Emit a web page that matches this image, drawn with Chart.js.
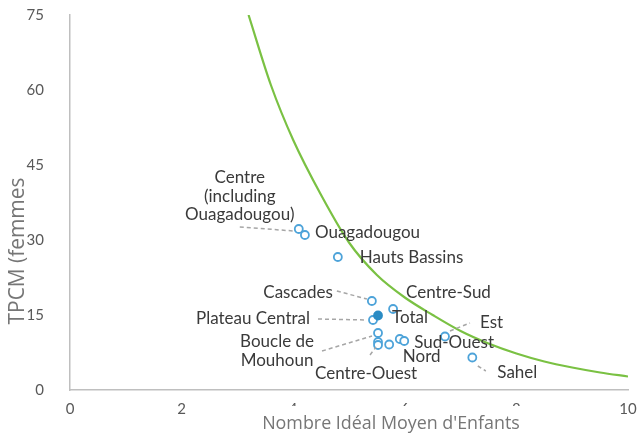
<!DOCTYPE html>
<html>
<head>
<meta charset="utf-8">
<script src="https://cdn.jsdelivr.net/npm/chart.js@4"></script>
<style>
  html, body { margin: 0; padding: 0; background: #fff; }
  #wrap { width: 639px; height: 438px; }
</style>
</head>
<body>
<div id="wrap"><canvas id="myChart" width="639" height="438"></canvas></div>
<script>
// DATA
const regions = [
  'Centre', 'Ouagadougou', 'Hauts Bassins', 'Cascades', 'Centre-Sud',
  'Total', 'Plateau Central', 'Boucle de Mouhoun', 'Centre-Ouest', 'Centre-Est',
  'Centre-Nord', 'Nord', 'Sud-Ouest', 'Est', 'Sahel'
];
const idealKids = [4.10, 4.21, 4.80, 5.41, 5.79, 5.52, 5.43, 5.52, 5.52, 5.52, 5.72, 5.91, 5.99, 6.72, 7.21];
const tpcm = [32.2, 31.0, 26.6, 17.8, 16.2, 14.9, 14.0, 11.4, 9.6, 9.0, 9.1, 10.2, 9.8, 10.7, 6.5];

// green trend curve
const curveX = [3.2, 3.6, 4.0, 4.5, 5.0, 5.5, 6.0, 6.5, 7.0, 7.5, 8.0, 8.5, 9.0, 9.5, 10.0];
const curveY = [75, 61, 50, 39, 29.5, 23, 18.5, 15, 11.8, 9.3, 7.3, 5.7, 4.5, 3.5, 2.7];

const xTitle = "Nombre Idéal Moyen d'Enfants";
const yTitle = 'TPCM (femmes';

// label placement (pixel offsets from the marker)
const labelLayout = {
  'Centre': { lines: ['Centre', '(including', 'Ouagadougou)'], dx: -59, dy: -51, align: 'center', lead: [-59, -2, -5, 2] },
  'Ouagadougou': { lines: ['Ouagadougou'], dx: 10, dy: -2, align: 'left' },
  'Hauts Bassins': { lines: ['Hauts Bassins'], dx: 22, dy: 1, align: 'left' },
  'Cascades': { lines: ['Cascades'], dx: -39, dy: -8, align: 'right', lead: [-35, -10, -5, -2] },
  'Centre-Sud': { lines: ['Centre-Sud'], dx: 13, dy: -16, align: 'left' },
  'Total': { lines: ['Total'], dx: 14, dy: 2.5, align: 'left' },
  'Plateau Central': { lines: ['Plateau Central'], dx: -63, dy: -1, align: 'right', lead: [-55, -1, -6, 0] },
  'Boucle de Mouhoun': { lines: ['Boucle de', 'Mouhoun'], dx: -101, dy: 9, align: 'center', lead: [-56, 18, -6, 3] },
  'Centre-Ouest': { lines: ['Centre-Ouest'], dx: -63, dy: 32, align: 'left', lead: [-8, 13, -2, 5] },
  'Nord': { lines: ['Nord'], dx: 3, dy: 18, align: 'left' },
  'Sud-Ouest': { lines: ['Sud-Ouest'], dx: 10, dy: 2, align: 'left' },
  'Est': { lines: ['Est'], dx: 35, dy: -13.5, align: 'left', lead: [5, -5.5, 25, -13.5] },
  'Sahel': { lines: ['Sahel'], dx: 25, dy: 15.5, align: 'left', lead: [5.5, 8.5, 13.5, 13.5] }
};

const pointsRegions = [];
const pointsTotal = [];
regions.forEach((r, i) => {
  const p = { x: idealKids[i], y: tpcm[i] };
  if (r === 'Total') pointsTotal.push(p); else pointsRegions.push(p);
});

const curvePoints = curveX.map((x, i) => ({ x: x, y: curveY[i] }));

// draws the region labels, leader lines and axis titles
const labelsPlugin = {
  id: 'labels',
  afterDatasetsDraw(chart) {
    const ctx = chart.ctx;
    const xs = chart.scales.x, ys = chart.scales.y;
    ctx.save();
    regions.forEach((r, i) => {
      const lay = labelLayout[r];
      if (!lay) return;
      const px = xs.getPixelForValue(idealKids[i]);
      const py = ys.getPixelForValue(tpcm[i]);
      if (lay.lead) {
        ctx.beginPath();
        ctx.setLineDash([4, 3]);
        ctx.strokeStyle = '#a6a6a6';
        ctx.lineWidth = 1.5;
        ctx.moveTo(px + lay.lead[0], py + lay.lead[1]);
        ctx.lineTo(px + lay.lead[2], py + lay.lead[3]);
        ctx.stroke();
        ctx.setLineDash([]);
      }
      ctx.font = '17px Lato';
      ctx.fillStyle = '#3a3a3a';
      ctx.textAlign = lay.align;
      ctx.textBaseline = 'middle';
      lay.lines.forEach((line, k) => {
        ctx.fillText(line, px + lay.dx, py + lay.dy + k * 18.5);
      });
    });
    ctx.restore();
  },
  afterDraw(chart) {
    const ctx = chart.ctx;
    ctx.save();
    // x title box sits over the middle tick labels, like the original
    ctx.fillStyle = '#fff';
    ctx.fillRect(255, 406, 275, 32);
    ctx.fillStyle = '#767676';
    ctx.textBaseline = 'middle';
    ctx.textAlign = 'center';
    let size = 17;
    ctx.font = size + 'px "Open Sans"';
    size = size * 258 / ctx.measureText(xTitle).width;
    ctx.font = size + 'px "Open Sans"';
    ctx.fillText(xTitle, 391, 424);
    // y title
    ctx.translate(18, 251);
    ctx.rotate(-Math.PI / 2);
    let ysize = 17;
    ctx.font = ysize + 'px "Open Sans"';
    ysize = ysize * 147 / ctx.measureText(yTitle).width;
    ctx.font = ysize + 'px "Open Sans"';
    ctx.fillText(yTitle, 0, 0);
    ctx.restore();
  }
};

const config = {
  type: 'scatter',
  data: {
    datasets: [
      {
        label: 'Regions',
        data: pointsRegions,
        pointRadius: 4,
        pointBorderWidth: 1.8,
        borderColor: '#4da3d9',
        backgroundColor: '#ffffff',
        order: 1
      },
      {
        label: 'Total',
        data: pointsTotal,
        pointRadius: 4,
        pointBorderWidth: 1.8,
        borderColor: '#2b8cc4',
        backgroundColor: '#2b8cc4',
        order: 0
      },
      {
        label: 'Curve',
        data: curvePoints,
        showLine: true,
        borderColor: '#7ac143',
        borderWidth: 2.2,
        pointRadius: 0,
        cubicInterpolationMode: 'monotone',
        order: 2
      }
    ]
  },
  options: {
    responsive: false,
    animation: false,
    layout: { padding: { top: 15, right: 11, left: 0, bottom: 0 } },
    plugins: {
      legend: { display: false },
      tooltip: { enabled: false }
    },
    scales: {
      x: {
        type: 'linear',
        min: 0,
        max: 10,
        ticks: { stepSize: 2, padding: 10, color: '#595959', font: { family: 'Lato', size: 15 } },
        grid: { display: false, drawTicks: false },
        border: { color: '#bfbfbf', width: 1.5 },
        afterFit: (s) => { s.height = 48; s.paddingLeft = 0; s.paddingRight = 0; }
      },
      y: {
        min: 0,
        max: 75,
        ticks: { stepSize: 15, padding: 26, color: '#595959', font: { family: 'Lato', size: 15 } },
        grid: { display: false, drawTicks: false },
        border: { color: '#bfbfbf', width: 1.5 },
        afterFit: (s) => { s.width = 70; s.paddingTop = 0; s.paddingBottom = 0; }
      }
    }
  },
  plugins: [labelsPlugin]
};

const myChart = new Chart(document.getElementById('myChart'), config);
</script>
</body>
</html>
